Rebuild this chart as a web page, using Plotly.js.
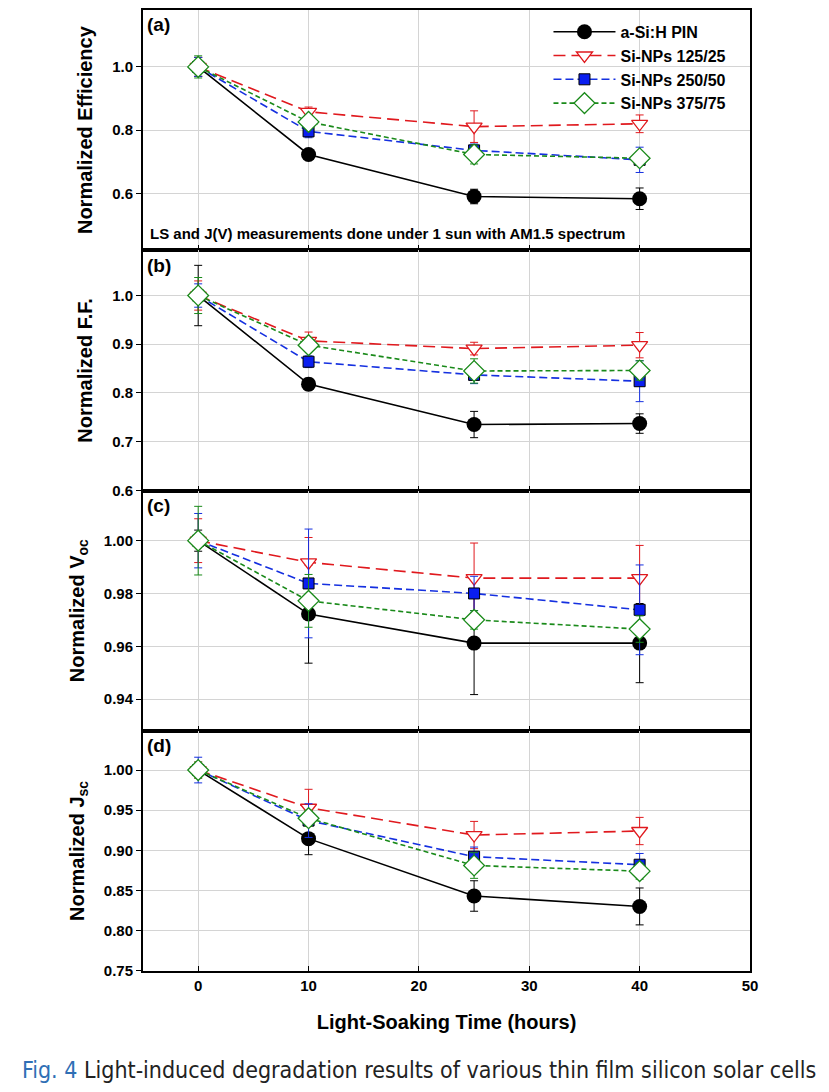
<!DOCTYPE html>
<html>
<head>
<meta charset="utf-8">
<script src="https://cdn.plot.ly/plotly-3.0.1.min.js"></script>
<style>
  body { margin: 0; background: #fff; }
  #chart { width: 829px; height: 1092px; }
</style>
</head>
<body>
<div id="chart"></div>
<script>
// light-soaking times (hours)
const hours = [0, 10, 25, 40];
const seriesNames = ['a-Si:H PIN', 'Si-NPs 125/25', 'Si-NPs 250/50', 'Si-NPs 375/75'];

// (a) normalized efficiency
const effPin = [1.0, 0.723, 0.590, 0.583];
const effPinErr = [0.03, 0.01, 0.023, 0.034];
const effNp125 = [1.0, 0.858, 0.811, 0.820];
const effNp125Err = [0.03, 0.015, 0.05, 0.028];
const effNp250 = [1.0, 0.796, 0.736, 0.706];
const effNp250Err = [0.03, 0.02, 0.02, 0.04];
const effNp375 = [1.0, 0.826, 0.723, 0.711];
const effNp375Err = [0.035, 0.015, 0.03, 0.02];

// (b) normalized fill factor
const ffPin = [1.0, 0.818, 0.735, 0.737];
const ffPinErr = [0.062, 0.012, 0.027, 0.02];
const ffNp125 = [1.0, 0.907, 0.891, 0.898];
const ffNp125Err = [0.03, 0.018, 0.013, 0.026];
const ffNp250 = [1.0, 0.864, 0.837, 0.824];
const ffNp250Err = [0.024, 0.012, 0.018, 0.042];
const ffNp375 = [1.0, 0.898, 0.845, 0.846];
const ffNp375Err = [0.037, 0.01, 0.025, 0.02];

// (c) normalized Voc
const vocPin = [1.0, 0.9722, 0.9612, 0.9612];
const vocPinErr = [0.004, 0.0186, 0.0195, 0.015];
const vocNp125 = [1.0, 0.9918, 0.9858, 0.9858];
const vocNp125Err = [0.0083, 0.0094, 0.0133, 0.0124];
const vocNp250 = [1.0, 0.9838, 0.9800, 0.9738];
const vocNp250Err = [0.0103, 0.0206, 0.0065, 0.017];
const vocNp375 = [1.0, 0.9772, 0.9700, 0.9665];
const vocNp375Err = [0.013, 0.01, 0.0035, 0.005];

// (d) normalized Jsc
const jscPin = [1.0, 0.9145, 0.843, 0.830];
const jscPinErr = [0.008, 0.02, 0.019, 0.023];
const jscNp125 = [1.0, 0.953, 0.919, 0.924];
const jscNp125Err = [0.01, 0.023, 0.017, 0.017];
const jscNp250 = [1.0, 0.937, 0.892, 0.882];
const jscNp250Err = [0.016, 0.021, 0.012, 0.014];
const jscNp375 = [1.0, 0.940, 0.881, 0.874];
const jscNp375Err = [0.01, 0.01, 0.016, 0.01];

const panels = [
  { vals: [effPin, effNp125, effNp250, effNp375], errs: [effPinErr, effNp125Err, effNp250Err, effNp375Err] },
  { vals: [ffPin, ffNp125, ffNp250, ffNp375], errs: [ffPinErr, ffNp125Err, ffNp250Err, ffNp375Err] },
  { vals: [vocPin, vocNp125, vocNp250, vocNp375], errs: [vocPinErr, vocNp125Err, vocNp250Err, vocNp375Err] },
  { vals: [jscPin, jscNp125, jscNp250, jscNp375], errs: [jscPinErr, jscNp125Err, jscNp250Err, jscNp375Err] }
];

const styles = [
  { color: 'black', dash: 'solid', marker: { symbol: 'circle', size: 15, color: 'black' } },
  { color: '#e0191e', dash: '12px,6px', marker: { symbol: 'triangle-down', size: 14, color: 'white', line: { color: '#e0191e', width: 1.3 } } },
  { color: '#1530e0', dash: '8px,4px', marker: { symbol: 'square', size: 11, color: '#0a1ef0', line: { color: 'black', width: 1 } } },
  { color: '#1a8a1a', dash: '5px,3px', marker: { symbol: 'diamond', size: 16, color: 'white', line: { color: '#1a8a1a', width: 1.3 } } }
];

const data = [];
panels.forEach((p, pi) => {
  const sfx = pi === 0 ? '' : String(pi + 1);
  p.vals.forEach((v, si) => {
    data.push({
      x: hours,
      y: v,
      xaxis: 'x' + sfx,
      yaxis: 'y' + sfx,
      name: seriesNames[si],
      legendgroup: seriesNames[si],
      showlegend: pi === 0,
      type: 'scatter',
      mode: 'lines+markers',
      line: { color: styles[si].color, dash: styles[si].dash, width: 1.6 },
      marker: styles[si].marker,
      error_y: { type: 'data', array: p.errs[si], color: styles[si].color, thickness: 1, width: 4 }
    });
  });
});

const tickFont = { family: 'Liberation Sans, Arial, sans-serif', size: 15, color: 'black', weight: 'bold' };
const titleFont = { family: 'Liberation Sans, Arial, sans-serif', size: 20, color: 'black', weight: 'bold' };

function xAx(anchor, showLabels) {
  return {
    range: [-5, 50], dtick: 10, tick0: 0, anchor: anchor,
    showticklabels: showLabels, tickfont: tickFont,
    ticks: 'inside', ticklen: 5, tickcolor: 'black',
    showgrid: true, gridcolor: '#d4d4d4', zeroline: false,
    showline: true, linecolor: 'black', linewidth: 2, mirror: true
  };
}
function yAx(domain, range, dtick, fmt, title, anchor) {
  return {
    domain: domain, range: range, dtick: dtick, tick0: 0, tickformat: fmt, anchor: anchor,
    tickfont: tickFont, ticks: 'outside', ticklen: 5, tickcolor: 'black',
    showgrid: true, gridcolor: '#d4d4d4', zeroline: false,
    showline: true, linecolor: 'black', linewidth: 2, mirror: true,
    title: { text: title, font: titleFont, standoff: 14 }
  };
}

const panelLabel = (txt, yref) => ({
  text: txt, xref: 'paper', yref: yref + ' domain', x: 0.004, y: 0.99,
  xanchor: 'left', yanchor: 'top', showarrow: false,
  font: { family: 'Liberation Sans, Arial, sans-serif', size: 19, color: 'black', weight: 'bold' }
});

const layout = {
  width: 829, height: 1092,
  margin: { l: 143, r: 79, t: 10, b: 121 },
  paper_bgcolor: 'white', plot_bgcolor: 'white',
  showlegend: true,
  legend: {
    x: 0.668, y: 0.995, xanchor: 'left', yanchor: 'top',
    bgcolor: 'rgba(0,0,0,0)', borderwidth: 0, itemwidth: 62, tracegroupgap: 0,
    font: { family: 'Liberation Sans, Arial, sans-serif', size: 16, color: 'black', weight: 'bold' }
  },
  xaxis: xAx('y', false),
  xaxis2: Object.assign(xAx('y2', false), { matches: 'x' }),
  xaxis3: Object.assign(xAx('y3', false), { matches: 'x' }),
  xaxis4: Object.assign(xAx('y4', true), {
    matches: 'x',
    title: { text: 'Light-Soaking Time (hours)', font: titleFont, standoff: 22 }
  }),
  yaxis: yAx([0.75, 1], [0.42, 1.18], 0.2, '.1f', 'Normalized Efficiency', 'x'),
  yaxis2: yAx([0.5, 0.75], [0.5995, 1.093], 0.1, '.1f', 'Normalized F.F.', 'x2'),
  yaxis3: yAx([0.25, 0.5], [0.928, 1.019], 0.02, '.2f', 'Normalized V<sub>oc</sub>', 'x3'),
  yaxis4: yAx([0, 0.25], [0.7495, 1.049], 0.05, '.2f', 'Normalized J<sub>sc</sub>', 'x4'),
  annotations: [
    panelLabel('(a)', 'y'), panelLabel('(b)', 'y2'), panelLabel('(c)', 'y3'), panelLabel('(d)', 'y4'),
    {
      text: 'LS and J(V) measurements done under 1 sun with AM1.5 spectrum',
      xref: 'paper', yref: 'y domain', x: 0.008, y: 0.07, xanchor: 'left', yanchor: 'middle',
      showarrow: false,
      font: { family: 'Liberation Sans, Arial, sans-serif', size: 15, color: 'black', weight: 'bold' }
    },
    {
      text: '<span style="color:#2f6fb5">Fig. 4</span> Light-induced degradation results of various thin film silicon solar cells',
      xref: 'paper', yref: 'paper', x: 0.455, y: -0.103, xanchor: 'center', yanchor: 'middle',
      showarrow: false,
      font: { family: 'DejaVu Sans Condensed, Liberation Sans, sans-serif', size: 23, color: '#222' }
    }
  ]
};

Plotly.newPlot('chart', data, layout, { displayModeBar: false, staticPlot: true });
</script>
</body>
</html>
